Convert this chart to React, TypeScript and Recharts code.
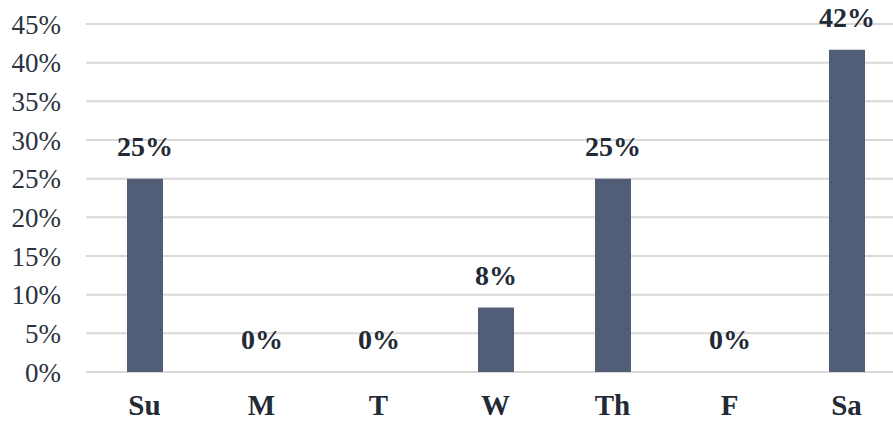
import React from "react";
import { BarChart, Bar, XAxis, YAxis, CartesianGrid, LabelList } from "recharts";

const days = ["Su", "M", "T", "W", "Th", "F", "Sa"];
const shares = [25, 0, 0, 8.33, 25, 0, 41.67];
const yTicks = [0, 5, 10, 15, 20, 25, 30, 35, 40, 45];

const data = days.map((day, i) => ({
  day,
  share: shares[i],
  label: `${Math.round(shares[i])}%`,
}));

const FONT = '"Liberation Serif", "DejaVu Serif", serif';

export default function App() {
  return (
    <div
      style={{
        position: "absolute",
        left: 0,
        top: 0,
        width: 893,
        height: 423,
        overflow: "hidden",
        background: "#fff",
      }}
    >
      <BarChart
        width={905}
        height={423}
        data={data}
        margin={{ top: 24, right: 0, left: 0, bottom: 0 }}
      >
        <CartesianGrid vertical={false} stroke="#d9d9d9" strokeWidth={2} />
        <XAxis
          dataKey="day"
          axisLine={false}
          tickLine={false}
          height={51}
          tick={{ fill: "#222a35", fontSize: 29, fontWeight: 700, fontFamily: FONT }}
          dy={14}
        />
        <YAxis
          width={86}
          domain={[0, 45]}
          ticks={yTicks}
          interval={0}
          axisLine={false}
          tickLine={false}
          tickSize={0}
          tickMargin={25}
          tickFormatter={(v: number) => `${v}%`}
          tick={{ fill: "#2b3340", fontSize: 27, fontFamily: FONT }}
        />
        <Bar
          dataKey="share"
          fill="#525d78"
          barSize={36}
          minPointSize={(v: number) => (v === 0 ? 0.1 : 0)}
          isAnimationActive={false}
        >
          <LabelList
            dataKey="label"
            position="top"
            offset={23}
            style={{ fill: "#222a35", fontSize: 28, fontWeight: 700, fontFamily: FONT }}
          />
        </Bar>
      </BarChart>
    </div>
  );
}
